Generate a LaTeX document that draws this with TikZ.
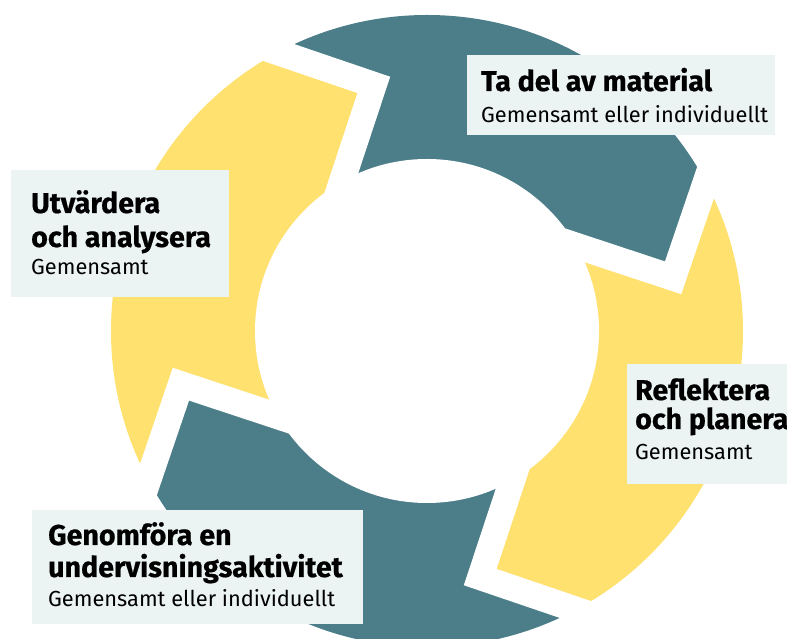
\documentclass[tikz,border=0pt]{standalone}
\usepackage{fontspec}
\setmainfont{Fira Sans}
\usetikzlibrary{calc}
\definecolor{tealc}{HTML}{4B7E89}
\definecolor{yellc}{HTML}{FFE16F}
\definecolor{boxc}{HTML}{ECF4F3}
\tikzset{
  ttl/.style={anchor=base west, inner sep=0pt, font=\fontsize{28.6}{32}\selectfont\bfseries\addfontfeature{FakeBold=0.6}},
  sub/.style={anchor=base west, inner sep=0pt, font=\fontsize{21.8}{25}\selectfont},
  panel/.style={fill=boxc, draw=none, anchor=north west, inner sep=0pt},
  gap/.style={draw=white, line width=26pt, line join=miter, miter limit=10}
}
\begin{document}
\begin{tikzpicture}[x=1pt,y=1pt]
\useasboundingbox (0,0) rectangle (787,639);
\coordinate (C) at (427,308);
\foreach \i/\t in {1/102.2, 2/12.2, 3/-77.8, 4/-167.8} {
  \coordinate (V\i) at ($(C)+(\t:251.8)$);
  \coordinate (O\i) at ($(V\i)+({\t+59}:400)$);
  \coordinate (I\i) at ($(V\i)+({\t+149.5}:130)$);
  \coordinate (F\i) at ($(C)+({\t-8}:900)$);
}
\begin{scope}
  \clip (C) circle (316);
  \fill[tealc] (C) -- (I1) -- (V1) -- (O1) -- (F1) -- (O2) -- (V2) -- (I2) -- cycle;
  \fill[yellc] (C) -- (I2) -- (V2) -- (O2) -- (F2) -- (O3) -- (V3) -- (I3) -- cycle;
  \fill[tealc] (C) -- (I3) -- (V3) -- (O3) -- (F3) -- (O4) -- (V4) -- (I4) -- cycle;
  \fill[yellc] (C) -- (I4) -- (V4) -- (O4) -- (F4) -- (O1) -- (V1) -- (I1) -- cycle;
\end{scope}
\fill[white] (C) circle (172);
\foreach \i in {1,2,3,4} { \draw[gap] (O\i) -- (V\i) -- (I\i); }

% panels
\node[panel, minimum width=308pt, minimum height=80pt] (b1) at (467,584) {};
\node[panel, minimum width=218pt, minimum height=127pt] (b2) at (11,469) {};
\node[panel, minimum width=175pt, minimum height=120pt] (b3) at (627,275) {};
\node[panel, minimum width=331pt, minimum height=114pt] (b4) at (32,129) {};

\node[ttl] (t1) at (481,548) {Ta del av material};
\node[sub] (s1) at (481,516) {Gemensamt eller individuellt};

\node[ttl] (t2a) at (31,426) {Utvärdera};
\node[ttl] (t2b) at (31,392) {och analysera};
\node[sub] (s2) at (31,364) {Gemensamt};

\node[ttl] (t3a) at (635,239) {Reflektera};
\node[ttl] (t3b) at (635,210) {och planera};
\node[sub] (s3) at (635,179) {Gemensamt};

\node[ttl] (t4a) at (48,94) {Genomföra en};
\node[ttl] (t4b) at (48,62) {undervisningsaktivitet};
\node[sub] (s4) at (48,32) {Gemensamt eller individuellt};
\end{tikzpicture}
\end{document}
